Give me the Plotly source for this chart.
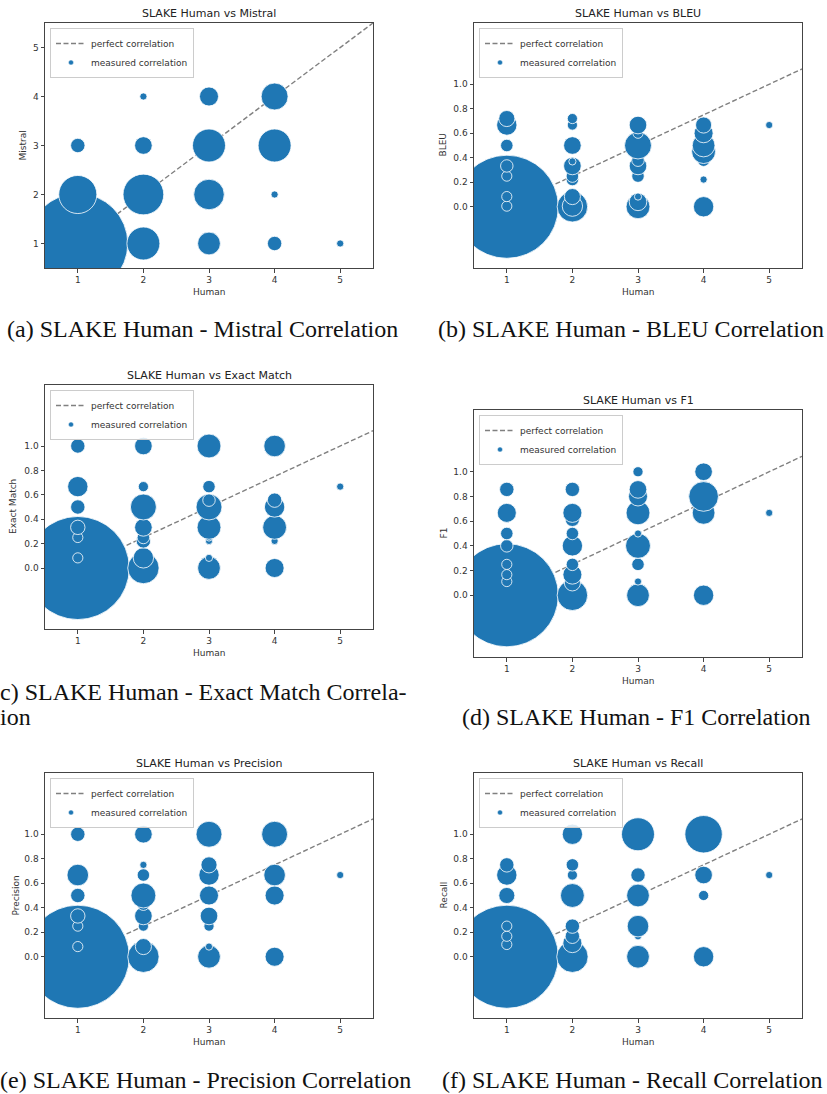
import math
import plotly.graph_objects as go

W, H = 827, 1094
BLUE = "#1f77b4"
FONT = "DejaVu Sans"
SERIF = "Liberation Serif"

# ---------------- data (human score, metric score, number of samples) ----------------
mistral_human = [1, 1, 1, 2, 2, 2, 2, 3, 3, 3, 3, 4, 4, 4, 4, 5]
mistral_score = [1, 2, 3, 1, 2, 3, 4, 1, 2, 3, 4, 1, 2, 3, 4, 1]
mistral_count = [193, 28, 4, 21, 32, 6, 1, 10, 18, 21, 7, 4, 1, 21, 14, 1]

bleu_human = [1, 1, 1, 1, 1, 1, 1, 1,
              2, 2, 2, 2, 2, 2, 2, 2, 2, 2,
              3, 3, 3, 3, 3, 3, 3, 3, 3,
              4, 4, 4, 4, 4, 4, 4,
              5]
bleu_score = [0.0, 0.005, 0.083, 0.25, 0.333, 0.5, 0.667, 0.72,
              0.0, 0.005, 0.083, 0.222, 0.25, 0.333, 0.37, 0.5, 0.667, 0.72,
              0.0, 0.04, 0.083, 0.25, 0.333, 0.38, 0.5, 0.6, 0.667,
              0.0, 0.222, 0.38, 0.45, 0.5, 0.6, 0.667,
              0.667]
bleu_count = [205, 2, 2, 2, 3, 3, 8, 5,
              18, 8, 5, 3, 3, 6, 1, 6, 2, 2,
              11, 6, 1, 3, 6, 3, 14, 2, 6,
              8, 1, 3, 11, 10, 7, 5,
              1]

em_human = [1, 1, 1, 1, 1, 1, 1,
            2, 2, 2, 2, 2, 2, 2, 2,
            3, 3, 3, 3, 3, 3, 3, 3, 3,
            4, 4, 4, 4, 4, 4,
            5]
em_score = [0.0, 0.083, 0.25, 0.333, 0.5, 0.667, 1.0,
            0.0, 0.083, 0.222, 0.25, 0.333, 0.5, 0.667, 1.0,
            0.0, 0.083, 0.222, 0.25, 0.333, 0.5, 0.556, 0.667, 1.0,
            0.0, 0.222, 0.333, 0.5, 0.556, 1.0,
            0.667]
em_count = [205, 2, 2, 4, 4, 8, 4,
            19, 8, 4, 3, 6, 13, 2, 6,
            10, 1, 1, 1, 11, 13, 3, 3, 11,
            7, 1, 11, 8, 4, 9,
            1]

f1_human = [1, 1, 1, 1, 1, 1, 1, 1,
            2, 2, 2, 2, 2, 2, 2, 2, 2,
            3, 3, 3, 3, 3, 3, 3, 3, 3,
            4, 4, 4, 4,
            5]
f1_score = [0.0, 0.111, 0.167, 0.25, 0.4, 0.5, 0.667, 0.857,
            0.0, 0.1, 0.167, 0.25, 0.4, 0.5, 0.615, 0.667, 0.857,
            0.0, 0.111, 0.25, 0.4, 0.5, 0.667, 0.8, 0.857, 1.0,
            0.0, 0.667, 0.8, 1.0,
            0.667]
f1_count = [205, 2, 2, 2, 3, 3, 7, 4,
            18, 5, 7, 3, 8, 3, 4, 7, 4,
            10, 1, 3, 12, 1, 11, 7, 6, 2,
            8, 10, 17, 6,
            1]

prec_human = [1, 1, 1, 1, 1, 1, 1,
              2, 2, 2, 2, 2, 2, 2, 2, 2,
              3, 3, 3, 3, 3, 3, 3, 3,
              4, 4, 4, 4, 4,
              5]
prec_score = [0.0, 0.083, 0.25, 0.333, 0.5, 0.667, 1.0,
              0.0, 0.083, 0.25, 0.333, 0.429, 0.5, 0.667, 0.75, 1.0,
              0.0, 0.083, 0.25, 0.333, 0.5, 0.667, 0.75, 1.0,
              0.0, 0.45, 0.5, 0.667, 1.0,
              0.667]
prec_count = [205, 2, 2, 4, 4, 9, 4,
              19, 5, 2, 6, 3, 12, 3, 1, 6,
              10, 1, 2, 6, 7, 8, 5, 13,
              7, 1, 7, 9, 13,
              1]

rec_human = [1, 1, 1, 1, 1, 1, 1,
             2, 2, 2, 2, 2, 2, 2, 2,
             3, 3, 3, 3, 3, 3,
             4, 4, 4, 4,
             5]
rec_score = [0.0, 0.1, 0.167, 0.25, 0.5, 0.667, 0.75,
             0.0, 0.111, 0.167, 0.25, 0.5, 0.667, 0.75, 1.0,
             0.0, 0.167, 0.25, 0.5, 0.667, 1.0,
             0.0, 0.5, 0.667, 1.0,
             0.667]
rec_count = [205, 2, 2, 2, 5, 8, 4,
             19, 7, 4, 4, 11, 2, 3, 8,
             10, 1, 9, 10, 4, 21,
             8, 2, 6, 27,
             1]

x_ticks = [1, 2, 3, 4, 5]
likert_ticks = [1, 2, 3, 4, 5]
metric_ticks = [0.0, 0.2, 0.4, 0.6, 0.8, 1.0]
metric_ticktext = ["0.0", "0.2", "0.4", "0.6", "0.8", "1.0"]

titles = ["SLAKE Human vs Mistral", "SLAKE Human vs BLEU", "SLAKE Human vs Exact Match",
          "SLAKE Human vs F1", "SLAKE Human vs Precision", "SLAKE Human vs Recall"]
ylabels = ["Mistral", "BLEU", "Exact Match", "F1", "Precision", "Recall"]

panels = [
    (mistral_human, mistral_score, mistral_count),
    (bleu_human, bleu_score, bleu_count),
    (em_human, em_score, em_count),
    (f1_human, f1_score, f1_count),
    (prec_human, prec_score, prec_count),
    (rec_human, rec_score, rec_count),
]

# ---------------- layout geometry (pixels) ----------------
frames = [(45, 373, 23, 268), (474, 802, 23, 268),
          (45, 373, 385, 629), (474, 802, 410, 657),
          (45, 373, 773, 1018), (474, 802, 773, 1018)]
ylabel_x = [23, 443, 13, 443, 15, 443]
UNIT_PX = 7.2  # marker diameter for a single sample


def px(x):
    return x / W


def py(y):
    return 1 - y / H


fig = go.Figure()
layout = dict(
    width=W, height=H, margin=dict(l=0, r=0, t=0, b=0),
    paper_bgcolor="white", plot_bgcolor="white",
    font=dict(family=FONT, size=9, color="#333"),
    showlegend=True,
)
annotations = []

for i, (hum, sc, cnt) in enumerate(panels):
    sfx = "" if i == 0 else str(i + 1)
    xa, ya = "x" + sfx, "y" + sfx
    lg = "legend" if i == 0 else "legend" + str(i + 1)
    x0, x1, y0, y1 = frames[i]
    likert = (i == 0)

    line_x = [0.5, 5.5]
    line_y = line_x if likert else [(v - 1) / 4 for v in line_x]
    fig.add_trace(go.Scatter(
        x=line_x, y=line_y, mode="lines", name="perfect correlation",
        line=dict(color="#808080", dash="5px,2.5px", width=1.4),
        xaxis=xa, yaxis=ya, legend=lg, showlegend=True, hoverinfo="skip"))
    fig.add_trace(go.Scatter(
        x=hum, y=sc, mode="markers", name="measured correlation",
        marker=dict(color=BLUE, size=[UNIT_PX * math.sqrt(c) for c in cnt],
                    sizemode="diameter", opacity=1,
                    line=dict(color="white", width=0.8)),
        xaxis=xa, yaxis=ya, legend=lg, showlegend=False, cliponaxis=True))
    fig.add_trace(go.Scatter(
        x=[None], y=[None], mode="markers", name="measured correlation",
        marker=dict(color=BLUE, size=5, line=dict(color="white", width=0.5)),
        xaxis=xa, yaxis=ya, legend=lg, showlegend=True))

    axis_style = dict(showline=True, mirror=True, linecolor="#444", linewidth=1,
                      ticks="outside", ticklen=3.5, tickcolor="#444", tickwidth=0.8,
                      tickfont=dict(family=FONT, size=9, color="#333"),
                      showgrid=False, zeroline=False, fixedrange=True)
    layout["xaxis" + sfx] = dict(axis_style, domain=[px(x0), px(x1)], range=[0.5, 5.5],
                                 tickvals=x_ticks, anchor=ya)
    if likert:
        layout["yaxis" + sfx] = dict(axis_style, domain=[py(y1), py(y0)], range=[0.5, 5.5],
                                     tickvals=likert_ticks, anchor=xa)
    else:
        layout["yaxis" + sfx] = dict(axis_style, domain=[py(y1), py(y0)], range=[-0.5, 1.5],
                                     tickvals=metric_ticks, ticktext=metric_ticktext, anchor=xa)

    layout[lg] = dict(x=px(x0 + 5), y=py(y0 + 5), xanchor="left", yanchor="top",
                      bgcolor="rgba(255,255,255,0.85)", bordercolor="#cccccc", borderwidth=1,
                      font=dict(family=FONT, size=9, color="#333"), traceorder="normal",
                      itemwidth=30, tracegroupgap=0)

    cx = (x0 + x1) / 2
    annotations.append(dict(text=titles[i], x=px(cx), y=py(y0 - 10), xref="paper", yref="paper",
                            showarrow=False, xanchor="center", yanchor="middle",
                            font=dict(family=FONT, size=11, color="#222")))
    annotations.append(dict(text="Human", x=px(cx), y=py(y1 + 24), xref="paper", yref="paper",
                            showarrow=False, xanchor="center", yanchor="middle",
                            font=dict(family=FONT, size=9, color="#333")))
    annotations.append(dict(text=ylabels[i], x=px(ylabel_x[i]), y=py((y0 + y1) / 2),
                            xref="paper", yref="paper", showarrow=False, textangle=-90,
                            xanchor="center", yanchor="middle",
                            font=dict(family=FONT, size=9, color="#333")))

captions = [
    ("(a) SLAKE Human - Mistral Correlation", 202, 329, "center"),
    ("(b) SLAKE Human - BLEU Correlation", 631, 329, "center"),
    ("c) SLAKE Human - Exact Match Correla-", -2, 692, "left"),
    ("ion", -2, 717, "left"),
    ("(d) SLAKE Human - F1 Correlation", 636, 717, "center"),
    ("(e) SLAKE Human - Precision Correlation", -2, 1080, "left"),
    ("(f) SLAKE Human - Recall Correlation", 632, 1080, "center"),
]
for text, x, y, anc in captions:
    annotations.append(dict(text=text, x=px(x), y=py(y), xref="paper", yref="paper",
                            showarrow=False, xanchor=anc, yanchor="middle",
                            font=dict(family=SERIF, size=24, color="#111")))

layout["annotations"] = annotations
fig.update_layout(**layout)
fig.write_html("out.html", config={"displayModeBar": False},
               post_script="document.body.style.margin='0px';document.body.style.overflow='hidden';")
